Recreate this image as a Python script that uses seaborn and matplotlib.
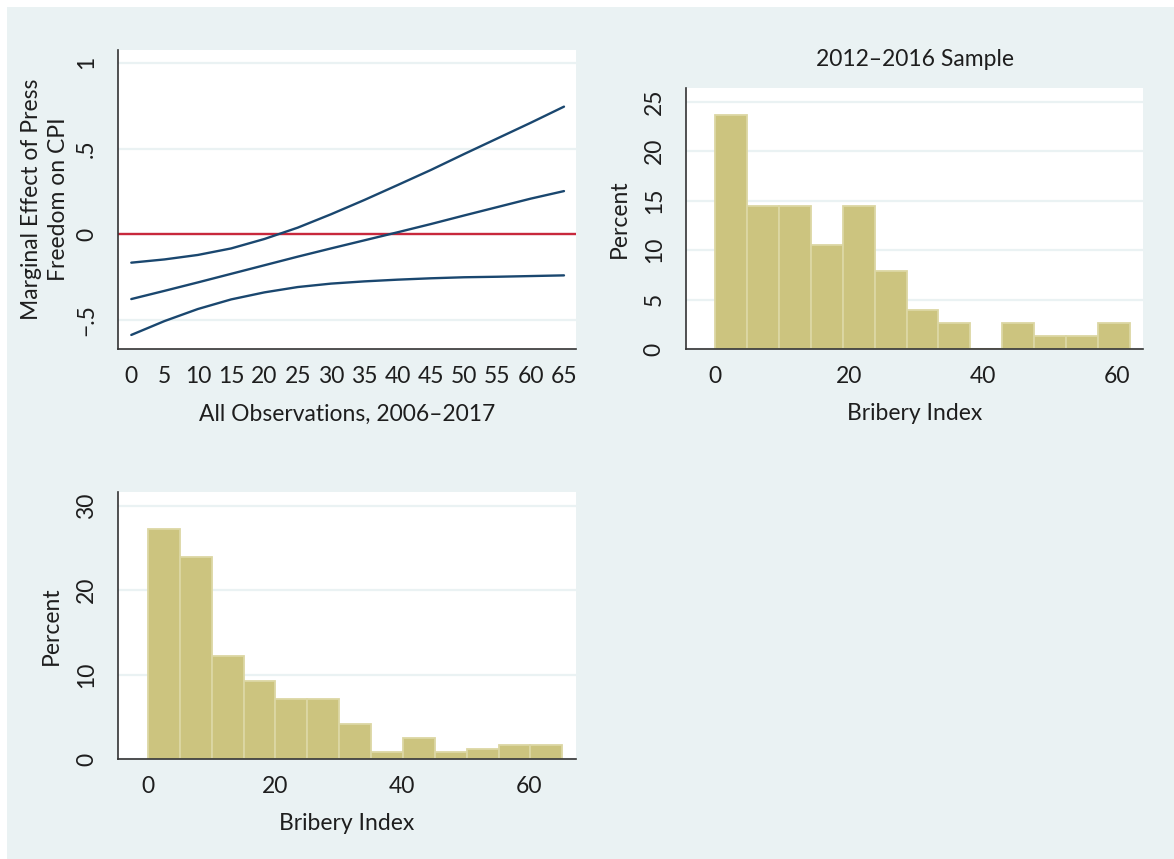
import matplotlib
matplotlib.use("Agg")
import matplotlib.pyplot as plt
from matplotlib.patches import Rectangle
import seaborn as sns
import pandas as pd

# marginal effect of press freedom on CPI, by bribery index
bribery_grid = [0, 5, 10, 15, 20, 25, 30, 35, 40, 45, 50, 55, 60, 65]
effect_upper = [-0.165, -0.146, -0.12, -0.082, -0.027, 0.039, 0.117, 0.20, 0.287, 0.375, 0.468, 0.559, 0.65, 0.744]
effect_mid = [-0.377, -0.329, -0.28, -0.23, -0.18, -0.13, -0.082, -0.035, 0.012, 0.06, 0.11, 0.159, 0.208, 0.252]
effect_lower = [-0.586, -0.505, -0.435, -0.379, -0.338, -0.307, -0.287, -0.274, -0.264, -0.256, -0.25, -0.247, -0.243, -0.239]

# histogram, 2012-2016 sample (percent per bin)
sample_bin_width = 4.76
sample_pct = [23.68, 14.47, 14.47, 10.53, 14.47, 7.89, 3.95, 2.63, 0.0, 2.63, 1.32, 1.32, 2.63]

# histogram, all observations (percent per bin)
all_bin_width = 5.02
all_pct = [27.3, 23.9, 12.2, 9.2, 7.06, 7.06, 4.14, 0.79, 2.48, 0.79, 1.18, 1.62, 1.62]

NAVY = "#1a476f"
RED = "#c8283c"
KHAKI = "#ccc47f"
KHAKI_EDGE = "#dcd7a4"
BG = "#eaf2f3"
INK = "#333333"
TXT = "#1e1e1e"
FS = 16.5

sns.set_theme(style="white")
plt.rcParams["font.family"] = ["Lato", "DejaVu Sans"]
plt.rcParams["axes.unicode_minus"] = True


def style_axes(ax):
    for side in ["top", "right"]:
        ax.spines[side].set_visible(False)
    for side in ["left", "bottom"]:
        ax.spines[side].set_color(INK)
        ax.spines[side].set_linewidth(1.2)
    ax.tick_params(axis="both", direction="out", length=7, width=1.2, color=INK,
                   labelsize=FS, labelcolor=TXT)
    ax.tick_params(axis="x", pad=5)
    ax.tick_params(axis="y", pad=8, labelrotation=90)
    for lab in ax.get_yticklabels():
        lab.set_va("center")
    ax.yaxis.grid(True, color=BG, lw=1.6)
    ax.xaxis.grid(False)
    ax.set_axisbelow(True)


def draw_hist(ax, pct, width):
    edges = [i * width for i in range(len(pct) + 1)]
    centers = [e + width / 2 for e in edges[:-1]]
    df = pd.DataFrame({"x": centers, "pct": pct})
    sns.histplot(data=df, x="x", weights="pct", bins=edges, color=KHAKI, alpha=1,
                 edgecolor=KHAKI_EDGE, linewidth=1.3, ax=ax)


fig = plt.figure(figsize=(11.74, 8.59), dpi=100)
fig.patch.set_facecolor("white")
fig.patches.append(Rectangle((7 / 1174, 0), 1, 1 - 7 / 859, transform=fig.transFigure,
                             facecolor=BG, edgecolor="none", zorder=-10))

# panel 1: marginal effects
ax1 = fig.add_axes([0.1005, 0.5937, 0.3901, 0.3481])
for series in [effect_upper, effect_mid, effect_lower]:
    sns.lineplot(x=bribery_grid, y=series, color=NAVY, lw=1.7, ax=ax1)
ax1.axhline(0, color=RED, lw=1.7, zorder=1)
ax1.set_xlim(-2.0, 66.8)
ax1.set_ylim(-0.668, 1.074)
ax1.set_xticks(bribery_grid)
ax1.set_yticks([-0.5, 0, 0.5, 1], ["\u2212.5", "0", ".5", "1"])
ax1.set_xlabel("All Observations, 2006\u20132017", fontsize=FS, color=TXT, labelpad=12)
ax1.set_ylabel("Marginal Effect of Press\nFreedom on CPI", fontsize=FS, color=TXT,
               labelpad=5, linespacing=1.35)
style_axes(ax1)

# panel 2: 2012-2016 histogram
ax2 = fig.add_axes([0.584, 0.5937, 0.390, 0.3039])
draw_hist(ax2, sample_pct, sample_bin_width)
ax2.set_xlim(-4.4, 63.9)
ax2.set_ylim(0, 26.4)
ax2.set_xticks([0, 20, 40, 60])
ax2.set_yticks([0, 5, 10, 15, 20, 25])
ax2.set_xlabel("Bribery Index", fontsize=FS, color=TXT, labelpad=12)
ax2.set_ylabel("Percent", fontsize=FS, color=TXT, labelpad=10)
ax2.set_title("2012\u20132016 Sample", fontsize=FS, color=TXT, pad=16)
style_axes(ax2)

# panel 3: all observations histogram
ax3 = fig.add_axes([0.1005, 0.1164, 0.3901, 0.3108])
draw_hist(ax3, all_pct, all_bin_width)
ax3.set_xlim(-4.7, 67.4)
ax3.set_ylim(0, 31.65)
ax3.set_xticks([0, 20, 40, 60])
ax3.set_yticks([0, 10, 20, 30])
ax3.set_xlabel("Bribery Index", fontsize=FS, color=TXT, labelpad=12)
ax3.set_ylabel("Percent", fontsize=FS, color=TXT, labelpad=10)
style_axes(ax3)

fig.savefig("out.png", dpi=100)
